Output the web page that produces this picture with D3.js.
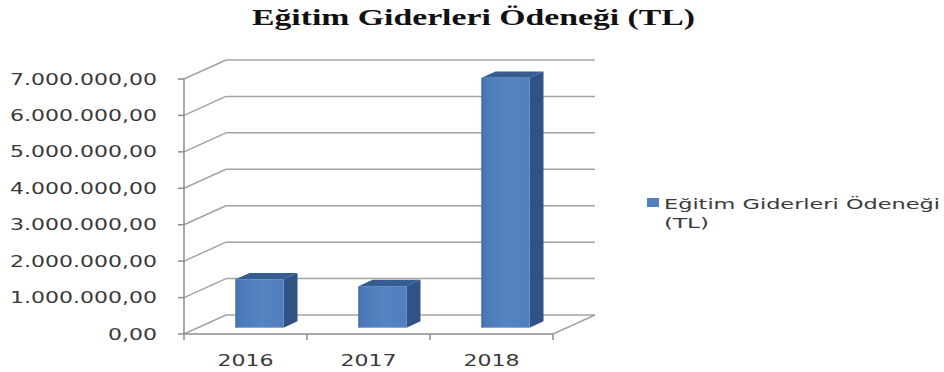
<!DOCTYPE html>
<html>
<head>
<meta charset="utf-8">
<script src="https://cdn.jsdelivr.net/npm/d3@7"></script>
<style>
  html, body { margin: 0; padding: 0; background: #fff; }
  svg { display: block; }
</style>
</head>
<body>
<svg id="chart" width="944" height="372"></svg>
<script>
// Data
const years = ["2016", "2017", "2018"];
const allowance = [1330000, 1140000, 6860000];
const yTicks = [0, 1000000, 2000000, 3000000, 4000000, 5000000, 6000000, 7000000];
const chartTitle = "Eğitim Giderleri Ödeneği (TL)";
const legendLines = ["Eğitim Giderleri Ödeneği", "(TL)"];

const svg = d3.select("#chart");

// Turkish number formatting: 7.000.000,00
const tr = d3.formatLocale({ decimal: ",", thousands: ".", grouping: [3], currency: ["", " TL"] });
const fmt = tr.format(",.2f");

// Plot frame (front plane) and oblique depth offset
const x = d3.scaleBand().domain(years).range([184, 553]).paddingInner(0).paddingOuter(0);
const y = d3.scaleLinear().domain([0, 7000000]).range([334, 79]);
const depth = { dx: 42, dy: -19 };
const barFrac = 0.39;          // bar width relative to band
const zFront = 1 / 3, zBack = 2 / 3;  // bar position within depth

const gridColor = "#a3a3a3";
const axisColor = "#8c8c8c";

// Horizontal stretch applied to text glyphs
function stretch(sel, k) {
  sel.each(function () {
    const w = this.getComputedTextLength();
    d3.select(this).attr("textLength", w * k).attr("lengthAdjust", "spacingAndGlyphs");
  });
}

// Back wall gridlines + diagonal wall lines from the axis
const grid = svg.append("g");
yTicks.forEach(t => {
  const yf = y(t);
  grid.append("line")
    .attr("x1", x.range()[0] + depth.dx).attr("x2", x.range()[1] + depth.dx)
    .attr("y1", yf + depth.dy).attr("y2", yf + depth.dy)
    .attr("stroke", gridColor).attr("stroke-width", 1.5);
  grid.append("line")
    .attr("x1", x.range()[0]).attr("y1", yf)
    .attr("x2", x.range()[0] + depth.dx).attr("y2", yf + depth.dy)
    .attr("stroke", gridColor).attr("stroke-width", 1.5);
});

// Floor: front edge and right side edge
grid.append("line")
  .attr("x1", x.range()[0]).attr("x2", x.range()[1])
  .attr("y1", y(0)).attr("y2", y(0))
  .attr("stroke", axisColor).attr("stroke-width", 1.5);
grid.append("line")
  .attr("x1", x.range()[1]).attr("y1", y(0))
  .attr("x2", x.range()[1] + depth.dx).attr("y2", y(0) + depth.dy)
  .attr("stroke", gridColor).attr("stroke-width", 1.5);

// Vertical value axis with ticks
const axisG = svg.append("g");
axisG.append("line")
  .attr("x1", x.range()[0]).attr("x2", x.range()[0])
  .attr("y1", y(7000000)).attr("y2", y(0))
  .attr("stroke", axisColor).attr("stroke-width", 1.5);
yTicks.forEach(t => {
  axisG.append("line")
    .attr("x1", x.range()[0] - 6).attr("x2", x.range()[0])
    .attr("y1", y(t)).attr("y2", y(t))
    .attr("stroke", axisColor).attr("stroke-width", 1.5);
});
// Category ticks along the floor front edge
const catTicks = [x.range()[0]].concat(years.map(d => x(d) + x.bandwidth()));
catTicks.forEach(cx => {
  axisG.append("line")
    .attr("x1", cx).attr("x2", cx)
    .attr("y1", y(0)).attr("y2", y(0) + 6)
    .attr("stroke", axisColor).attr("stroke-width", 1.5);
});

// Y labels
const yLab = svg.append("g")
  .attr("font-family", "DejaVu Sans, Verdana, sans-serif")
  .attr("font-size", 15).attr("fill", "#3a3a3a");
const yTexts = yLab.selectAll("text").data(yTicks).join("text")
  .attr("y", d => y(d) + 5.5)
  .text(d => fmt(d));
// common stretch based on widest label
const widest = yTexts.nodes()[yTexts.size() - 1].getComputedTextLength();
const kY = 147 / widest;
yTexts.each(function () {
  const w = this.getComputedTextLength() * kY;
  d3.select(this).attr("x", 157 - w).attr("textLength", w).attr("lengthAdjust", "spacingAndGlyphs");
});

// X labels
const xLab = svg.append("g")
  .attr("font-family", "DejaVu Sans, Verdana, sans-serif")
  .attr("font-size", 15).attr("fill", "#3a3a3a");
xLab.selectAll("text").data(years).join("text")
  .attr("y", 366)
  .text(d => d)
  .each(function (d) {
    const w = this.getComputedTextLength() * kY;
    d3.select(this).attr("x", x(d) + x.bandwidth() / 2 - w / 2)
      .attr("textLength", w).attr("lengthAdjust", "spacingAndGlyphs");
  });

// Bars (oblique 3D columns)
const defs = svg.append("defs");
const grad = defs.append("linearGradient").attr("id", "frontGrad")
  .attr("x1", "0%").attr("x2", "100%").attr("y1", "0%").attr("y2", "0%");
grad.append("stop").attr("offset", "0%").attr("stop-color", "#4373b3");
grad.append("stop").attr("offset", "12%").attr("stop-color", "#4b7bbb");
grad.append("stop").attr("offset", "55%").attr("stop-color", "#5584c2");
grad.append("stop").attr("offset", "100%").attr("stop-color", "#4f7fbe");

const bw = x.bandwidth() * barFrac;
const bars = svg.append("g");
years.forEach((yr, i) => {
  const v = allowance[i];
  const x0 = x(yr) + (x.bandwidth() - bw) / 2 + depth.dx * zFront;
  const x1 = x0 + bw;
  const yb = y(0) + depth.dy * zFront;
  const yt = y(v) + depth.dy * zFront;
  const ddx = depth.dx * (zBack - zFront), ddy = depth.dy * (zBack - zFront);
  const g = bars.append("g");
  // side face
  g.append("path")
    .attr("d", `M${x1},${yt} L${x1 + ddx},${yt + ddy} L${x1 + ddx},${yb + ddy} L${x1},${yb} Z`)
    .attr("fill", "#2f5385");
  // top face
  g.append("path")
    .attr("d", `M${x0},${yt} L${x0 + ddx},${yt + ddy} L${x1 + ddx},${yt + ddy} L${x1},${yt} Z`)
    .attr("fill", "#355d92");
  // front face
  g.append("rect")
    .attr("x", x0).attr("y", yt).attr("width", bw).attr("height", yb - yt)
    .attr("fill", "url(#frontGrad)");
  g.append("line")
    .attr("x1", x0 + 0.5).attr("x2", x0 + 0.5).attr("y1", yt).attr("y2", yb)
    .attr("stroke", "#3d6aa6").attr("stroke-width", 1);
});

// Title
const title = svg.append("text")
  .attr("x", 252).attr("y", 25)
  .attr("font-family", "Liberation Serif, Times New Roman, serif")
  .attr("font-weight", "bold").attr("font-size", 22.5).attr("fill", "#111")
  .text(chartTitle);
title.attr("textLength", 443).attr("lengthAdjust", "spacingAndGlyphs");

// Legend
const leg = svg.append("g");
leg.append("rect").attr("x", 647).attr("y", 198).attr("width", 12).attr("height", 9)
  .attr("fill", "#4f7fbe");
const legText = leg.append("g")
  .attr("font-family", "DejaVu Sans, Verdana, sans-serif")
  .attr("font-size", 13.5).attr("fill", "#3a3a3a");
legText.append("text").attr("x", 664).attr("y", 208.5).text(legendLines[0])
  .attr("textLength", 276).attr("lengthAdjust", "spacingAndGlyphs");
legText.append("text").attr("x", 664).attr("y", 228).text(legendLines[1])
  .attr("textLength", 45).attr("lengthAdjust", "spacingAndGlyphs");
</script>
</body>
</html>
